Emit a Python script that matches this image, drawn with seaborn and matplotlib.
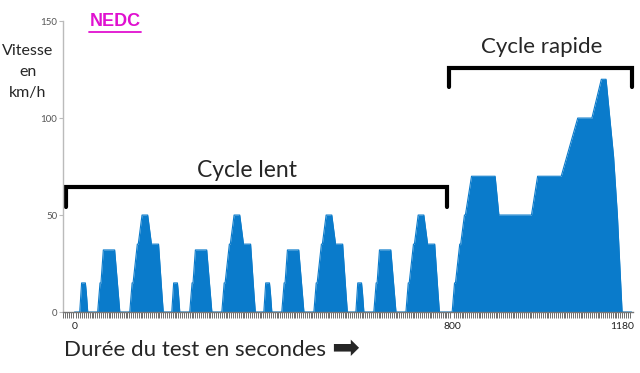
import numpy as np
import pandas as pd
import matplotlib
matplotlib.use("Agg")
import matplotlib.pyplot as plt
import matplotlib.transforms as mtransforms
from matplotlib.ticker import MultipleLocator
from matplotlib.lines import Line2D
import seaborn as sns

# cycle urbain ECE-15 (un motif de 195 s), points de rupture temps / vitesse
urban_t = [0, 11, 15, 23, 25, 28, 49, 54, 56, 61, 85, 96, 117, 122, 124, 133, 135,
           143, 155, 163, 176, 178, 185, 188, 195]
urban_v = [0, 0, 15, 15, 10, 0, 0, 15, 15, 32, 32, 0, 0, 15, 15, 35, 35,
           50, 50, 35, 35, 35, 10, 0, 0]
n_urban = 4
urban_len = 195

# cycle extra-urbain EUDC (400 s)
eudc_t = [0, 20, 25, 27, 36, 38, 46, 48, 61, 111, 119, 188, 201, 251, 286, 316,
          336, 346, 362, 370, 380, 400]
eudc_v = [0, 0, 15, 15, 35, 35, 50, 50, 70, 70, 50, 50, 70, 70, 100, 100,
          120, 120, 80, 50, 0, 0]

xticks = [0, 800, 1180]
yticks = [0, 50, 100, 150]

# assemblage du cycle NEDC
t_all, v_all = [], []
for k in range(n_urban):
    t_all += [t + k * urban_len for t in urban_t]
    v_all += urban_v
t_all += [t + n_urban * urban_len for t in eudc_t]
v_all += eudc_v
df = pd.DataFrame({"t": t_all, "v": v_all})

blue = "#0A7BCB"

sns.set_style("white")
plt.rcParams["font.family"] = ["Lato", "DejaVu Sans"]

fig = plt.figure(figsize=(6.4, 3.73), dpi=100)
ax = fig.add_axes([0.098, 0.1635, 0.891, 0.78])

sns.lineplot(data=df, x="t", y="v", color=blue, linewidth=0.8, ax=ax, sort=False)
ax.fill_between(df["t"], df["v"], color=blue, linewidth=0)

ax.set_xlim(-25, 1183)
ax.set_ylim(0, 150)
ax.set_xlabel("")
ax.set_ylabel("")

for s in ["top", "right"]:
    ax.spines[s].set_visible(False)
ax.spines["left"].set_color("#BBBBBB")
ax.spines["left"].set_linewidth(1)
ax.spines["bottom"].set_color("#777777")
ax.spines["bottom"].set_linewidth(1)

ax.set_yticks(yticks)
ax.set_xticks(xticks)
ax.xaxis.set_minor_locator(MultipleLocator(4))
ax.tick_params(axis="y", which="major", length=3, width=0.8, color="#BBBBBB",
               labelsize=7, labelcolor="#555555", pad=1, left=True)
ax.tick_params(axis="x", which="major", length=0, labelsize=7.5,
               labelcolor="#222222", pad=7)
ax.tick_params(axis="x", which="minor", length=4, width=0.6, color="#555555",
               bottom=True, direction="out")

# le dernier libellé est décalé un peu à gauche pour rester dans l'image
last = ax.get_xticklabels()[-1]
last.set_transform(last.get_transform() +
                   mtransforms.ScaledTranslation(-9 / 100, 0, fig.dpi_scale_trans))

# accolades des deux phases
lw = 3
ax.add_line(Line2D([-17, -17, 790, 790], [54, 64.5, 64.5, 54], color="black",
                   linewidth=lw, solid_joinstyle="miter", clip_on=False))
ax.text(366, 73, "Cycle lent", ha="center", va="center", fontsize=16.5)
ax.add_line(Line2D([793, 793, 1182, 1182], [116, 126, 126, 116], color="black",
                   linewidth=lw, solid_joinstyle="miter", clip_on=False))
ax.text(990, 136.5, "Cycle rapide", ha="center", va="center", fontsize=16)

# textes autour du graphique
fig.text(115 / 640, 1 - 21 / 373, "NEDC", color="#E010D0", fontsize=13,
         fontweight="bold", family=["Liberation Sans", "DejaVu Sans"],
         ha="center", va="center")
fig.add_artist(Line2D([89 / 640, 141 / 640], [1 - 32 / 373, 1 - 32 / 373],
                      color="#E010D0", linewidth=1.3))
fig.text(28 / 640, 1 - 72 / 373, "Vitesse\nen\nkm/h", fontsize=11.5,
         ha="center", va="center", linespacing=1.6)
fig.text(64 / 640, 1 - 350 / 373, "Durée du test en secondes", fontsize=16,
         ha="left", va="center")
fig.text(331 / 640, 1 - 349 / 373, "➡", fontsize=24, ha="left", va="center",
         family=["DejaVu Sans"])

fig.savefig("out.png", dpi=100)
